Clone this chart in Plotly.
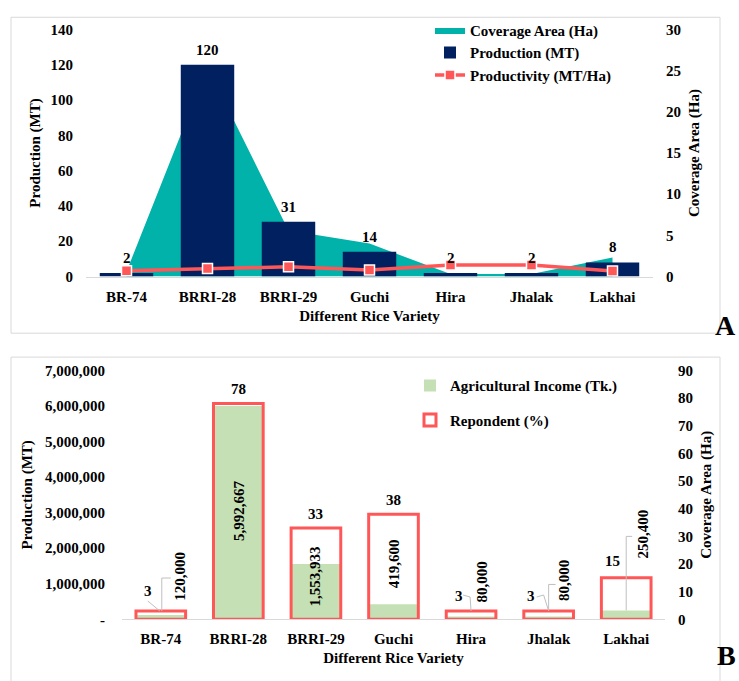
import plotly.graph_objects as go

# ---------------------------------------------------------------- data
varieties = ["BR-74", "BRRI-28", "BRRI-29", "Guchi", "Hira", "Jhalak", "Lakhai"]

# Panel A
coverage_ha = [0.6, 25.4, 5.6, 4.0, 0.3, 0.3, 2.3]
production_mt = [2, 120, 31, 14, 2, 2, 8]
productivity_mt_ha = [3.3, 4.6, 5.5, 3.7, 6.5, 6.5, 3.2]

# Panel B
income_tk = [120000, 5992667, 1553933, 419600, 80000, 80000, 250400]
respondent_pct = [3, 78, 33, 38, 3, 3, 15]

production_ticks = list(range(0, 141, 20))
coverage_ticks = list(range(0, 31, 5))
income_ticks = list(range(0, 7000001, 1000000))
income_ticktext = ["-"] + [f"{v:,}" for v in income_ticks[1:]]
respondent_ticks = list(range(0, 91, 10))

# ---------------------------------------------------------------- style
W, H = 739, 681
TEAL = "#00B2A9"
NAVY = "#002060"
RED = "#FF5757"
GREEN = "#C5E0B4"
GRID = "#D9D9D9"
LEADER = "#BFBFBF"
FAMILY = "'Liberation Serif', 'Times New Roman', 'DejaVu Serif', serif"


def fnt(size=15, color="black"):
    return dict(family=FAMILY, size=size, color=color, weight="bold")


def fx(p):
    return p / W


def fy(p):
    return 1 - p / H


# label placement (pixel shifts relative to the value they describe)
income_label_shift = {  # (xshift, yshift, anchor on half value?)
    "BR-74": (19, 39, False),
    "BRRI-28": (0, 2, True),
    "BRRI-29": (-1, 15, True),
    "Guchi": (0, 48, True),
    "Hira": (11, 34, False),
    "Jhalak": (16, 36, False),
    "Lakhai": (17, 76, False),
}
respondent_label_shift = {
    "BR-74": (-13, 20),
    "BRRI-28": (0, 14),
    "BRRI-29": (0, 14),
    "Guchi": (0, 14),
    "Hira": (-12, 15),
    "Jhalak": (-18, 15),
    "Lakhai": (-14, 17),
}
income_leaders = {
    "BR-74": "M 1,4 L 1,37 L 10,37",
    "Jhalak": "M 0,6 L 0,32 L 7,32",
    "Lakhai": "M 0,0 L 0,74 L 6,74",
}
respondent_leaders = {
    "BR-74": "M -13,10 L -1,0",
    "Hira": "M -8,16 L -1,14 L 0,0",
    "Jhalak": "M -12,14 L -5,16 L 0,0",
}

fig = go.Figure()

# ---------------------------------------------------------------- panel A
fig.add_trace(go.Scatter(
    x=varieties, y=coverage_ha, name="Coverage Area (Ha)",
    mode="lines", line=dict(width=0, color=TEAL), fill="tozeroy",
    fillcolor=TEAL, xaxis="x", yaxis="y", legend="legend",
))
fig.add_trace(go.Bar(
    x=varieties, y=production_mt, name="Production (MT)",
    marker=dict(color=NAVY, line=dict(width=0)), width=0.66,
    xaxis="x", yaxis="y2", legend="legend",
))
fig.add_trace(go.Scatter(
    x=varieties, y=productivity_mt_ha, name="Productivity (MT/Ha)",
    mode="lines+markers", line=dict(color=RED, width=3.5),
    marker=dict(symbol="square", size=10, color=RED,
                line=dict(color="white", width=1.5)),
    xaxis="x", yaxis="y2", legend="legend",
))

# ---------------------------------------------------------------- panel B
fig.add_trace(go.Bar(
    x=varieties, y=income_tk, name="Agricultural Income (Tk.)",
    marker=dict(color=GREEN, line=dict(width=0)), width=0.64,
    xaxis="x2", yaxis="y3", legend="legend2", legendgroup="b1",
))
fig.add_trace(go.Bar(
    x=varieties, y=respondent_pct, name="Repondent (%)",
    marker=dict(color="rgba(0,0,0,0)", line=dict(color=RED, width=3)),
    width=0.64, xaxis="x2", yaxis="y4", legend="legend2", legendgroup="b2",
))

annotations = []
shapes = []

# production labels
for v, p in zip(varieties, production_mt):
    annotations.append(dict(
        x=v, y=p, xref="x", yref="y2", text=f"{p}", showarrow=False,
        yanchor="middle", yshift=15, font=fnt()))

# income labels (rotated)
for v, inc in zip(varieties, income_tk):
    dx, dy, half = income_label_shift[v]
    annotations.append(dict(
        x=v, y=inc / 2 if half else inc, xref="x2", yref="y3",
        text=f"{inc:,}", showarrow=False, textangle=-90,
        xanchor="center", yanchor="middle", xshift=dx, yshift=dy,
        font=fnt()))

# respondent labels
for v, r in zip(varieties, respondent_pct):
    dx, dy = respondent_label_shift[v]
    annotations.append(dict(
        x=v, y=r, xref="x2", yref="y4", text=f"{r}", showarrow=False,
        xanchor="center", yanchor="middle", xshift=dx, yshift=dy,
        font=fnt()))

# leader lines for labels set away from short bars
for v, path in income_leaders.items():
    shapes.append(dict(
        type="path", xref="x2", yref="y3", xsizemode="pixel",
        ysizemode="pixel", xanchor=v, yanchor=income_tk[varieties.index(v)],
        path=path, line=dict(color=LEADER, width=1), layer="above"))
for v, path in respondent_leaders.items():
    shapes.append(dict(
        type="path", xref="x2", yref="y4", xsizemode="pixel",
        ysizemode="pixel", xanchor=v,
        yanchor=respondent_pct[varieties.index(v)],
        path=path, line=dict(color=LEADER, width=1), layer="above"))

# panel frames
shapes.append(dict(type="rect", xref="paper", yref="paper",
                   x0=fx(11), x1=fx(720), y0=fy(333), y1=fy(9.5),
                   line=dict(color=GRID, width=1), layer="below"))
shapes.append(dict(type="rect", xref="paper", yref="paper",
                   x0=fx(11), x1=fx(720), y0=fy(700), y1=fy(357.5),
                   line=dict(color=GRID, width=1), layer="below"))

# panel letters
annotations.append(dict(x=fx(738), y=fy(343), xref="paper", yref="paper",
                        text="A", showarrow=False, xanchor="right",
                        yanchor="bottom", font=fnt(28)))
annotations.append(dict(x=fx(738), y=0, xref="paper", yref="paper",
                        text="B", showarrow=False, xanchor="right",
                        yanchor="bottom", font=fnt(28)))

cat_axis = dict(type="category", showline=True, linecolor=GRID, linewidth=1,
                ticks="", showgrid=False, zeroline=False, tickfont=fnt(),
                range=[-0.5, 6.5], ticklabelstandoff=6)
val_axis = dict(showline=False, showgrid=False, zeroline=False, ticks="",
                tickfont=fnt())

fig.update_layout(
    width=W, height=H, margin=dict(l=0, r=0, t=0, b=0),
    paper_bgcolor="white", plot_bgcolor="rgba(0,0,0,0)",
    barmode="overlay",
    font=fnt(),
    xaxis=dict(cat_axis, domain=[fx(86), fx(653)], anchor="y",
               title=dict(text="Different Rice Variety", font=fnt(),
                          standoff=6)),
    yaxis=dict(val_axis, domain=[fy(275), fy(22)], anchor="x", side="right",
               range=[0, 30], tickvals=coverage_ticks,
               ticklabelstandoff=12,
               title=dict(text="Coverage Area (Ha)", font=fnt(), standoff=8)),
    yaxis2=dict(val_axis, overlaying="y", anchor="x", side="left",
                range=[0, 140], tickvals=production_ticks,
                ticklabelstandoff=12,
                title=dict(text="Production (MT)", font=fnt(), standoff=6)),
    xaxis2=dict(cat_axis, domain=[fx(122), fx(665)], anchor="y3",
                title=dict(text="Different Rice Variety", font=fnt(),
                           standoff=6)),
    yaxis3=dict(val_axis, domain=[fy(626), fy(371)], anchor="x2",
                side="left", range=[0, 7000000], tickvals=income_ticks,
                ticktext=income_ticktext, ticklabelstandoff=16,
                title=dict(text="Production (MT)", font=fnt(), standoff=8)),
    yaxis4=dict(val_axis, overlaying="y3", anchor="x2", side="right",
                range=[0, 90], tickvals=respondent_ticks,
                ticklabelstandoff=12,
                title=dict(text="Coverage Area (Ha)", font=fnt(), standoff=8)),
    legend=dict(x=fx(430), y=fy(6), xanchor="left", yanchor="top",
                bgcolor="rgba(0,0,0,0)", font=fnt(), traceorder="normal"),
    legend2=dict(x=fx(410), y=fy(370), xanchor="left", yanchor="top",
                 bgcolor="rgba(0,0,0,0)", font=fnt(), tracegroupgap=12,
                 traceorder="grouped"),
    annotations=annotations,
    shapes=shapes,
)

fig.write_html("out.html")
